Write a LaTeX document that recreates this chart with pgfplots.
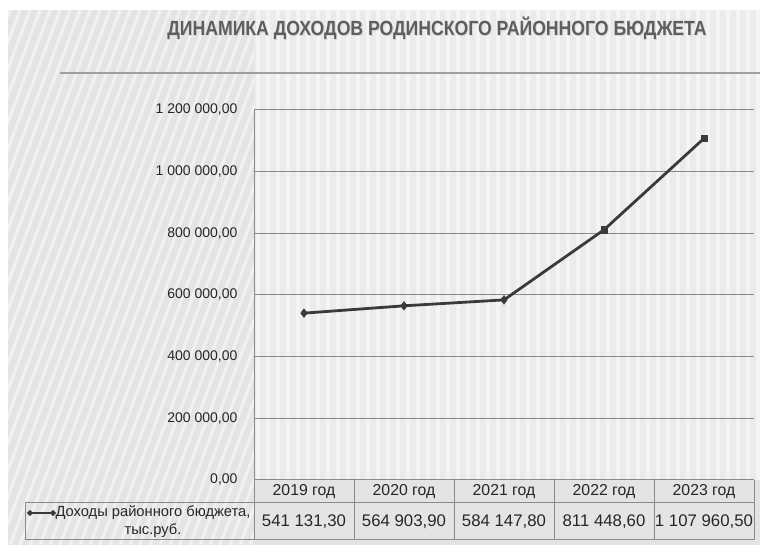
\documentclass[border=0pt]{standalone}
\usepackage{fontspec}
\setmainfont{Liberation Sans}
\newfontfamily\titlefont[FakeStretch=0.86]{Liberation Sans}
\usepackage{pgfplots}
\pgfplotsset{compat=1.18}
\definecolor{bg}{HTML}{E4E4E4}
\definecolor{plotbg}{HTML}{EBEBEB}
\definecolor{linec}{HTML}{3A3A3A}
\definecolor{gridc}{HTML}{8A8A8A}
\definecolor{titlec}{HTML}{5E5E5E}

\begin{document}
\begin{tikzpicture}[x=1pt,y=1pt]
\useasboundingbox (0,0) rectangle (760,545);
\fill[white] (0,0) rectangle (760,545);
\fill[bg] (8,0) rectangle (760,535);
% background stripes
\begin{scope}
  \clip (8,0) rectangle (254,535);
  \foreach \i in {-400,-390,...,260}
    \draw[white,opacity=0.5,line width=3pt] (\i,0) -- (\i+200,535);
\end{scope}
\begin{scope}
  \clip (254,65) rectangle (760,535);
  \fill[plotbg] (254,65) rectangle (760,535);
  \foreach \i in {258,268,...,760}
    \draw[white,opacity=0.45,line width=3.5pt] (\i,65) -- (\i,535);
\end{scope}
% title
\node[font=\titlefont\bfseries\fontsize{20.5}{23}\selectfont, text=gray!30] at (438,516) {ДИНАМИКА ДОХОДОВ РОДИНСКОГО РАЙОННОГО БЮДЖЕТА};
\node[font=\titlefont\bfseries\fontsize{20.5}{23}\selectfont, text=titlec] at (437,517) {ДИНАМИКА ДОХОДОВ РОДИНСКОГО РАЙОННОГО БЮДЖЕТА};
\draw[gray!75,line width=1.2pt] (60,472) -- (760,472);

\begin{axis}[
    at={(254pt,65pt)}, anchor=south west,
    width=500pt, height=370pt, scale only axis,
    xmin=-0.5, xmax=4.5,
    ymin=0, ymax=1200000,
    xtick={0,1,2,3,4},
    xticklabels={2019 год,2020 год,2021 год,2022 год,2023 год},
    ytick={0,200000,400000,600000,800000,1000000,1200000},
    scaled y ticks=false,
    axis lines*=left,
    axis line style={gridc, line width=1pt},
    ymajorgrids,
    grid style={gridc, line width=1pt},
    major tick length=0pt,
    yticklabel style={font=\fontsize{14}{16}\selectfont, text=black!85, xshift=-13pt,
      /pgf/number format/.cd, fixed, fixed zerofill, precision=2, use comma,
      1000 sep={\ }, assume math mode=true},
    xticklabel style={font=\fontsize{15.8}{18}\selectfont, text=black!85, anchor=center, yshift=-11.5pt},
    clip=false,
]
\addplot[linec, line width=2.8pt, mark=none] coordinates {
  (0,541131.30) (1,564903.90) (2,584147.80) (3,811448.60) (4,1107960.50)
};
\addplot[only marks, mark=diamond*, mark size=4.4pt, linec] coordinates {
  (0,541131.30) (1,564903.90) (2,584147.80)
};
\addplot[only marks, mark=square*, mark size=3.2pt, linec, mark options={fill=linec}] coordinates {
  (3,811448.60) (4,1107960.50)
};
\end{axis}

% data table
\draw[gridc, line width=1pt] (25,42) -- (754,42);
\draw[gridc, line width=1pt] (25,5) -- (754,5);
\draw[gridc, line width=1pt] (25,5) -- (25,42);
\foreach \x in {254,354,454,554,654,754}
  \draw[gridc, line width=1pt] (\x,5) -- (\x,65);
\node[font=\fontsize{16.8}{19}\selectfont, text=black!85] at (304,23.5) {541 131,30};
\node[font=\fontsize{16.8}{19}\selectfont, text=black!85] at (404,23.5) {564 903,90};
\node[font=\fontsize{16.8}{19}\selectfont, text=black!85] at (504,23.5) {584 147,80};
\node[font=\fontsize{16.8}{19}\selectfont, text=black!85] at (604,23.5) {811 448,60};
\node[font=\fontsize{16.8}{19}\selectfont, text=black!85] at (704,23.5) {1 107 960,50};
% legend key
\draw[linec, line width=2.2pt] (30,32) -- (53,32);
\fill[linec] (30,32) +(-3.2,0) -- +(0,3.2) -- +(3.2,0) -- +(0,-3.2) -- cycle;
\fill[linec] (53,32) +(-3.2,0) -- +(0,3.2) -- +(3.2,0) -- +(0,-3.2) -- cycle;
\node[font=\fontsize{14.7}{18}\selectfont, text=black!85, align=center] at (153,23.5) {Доходы районного бюджета,\\тыс.руб.};
\end{tikzpicture}
\end{document}
